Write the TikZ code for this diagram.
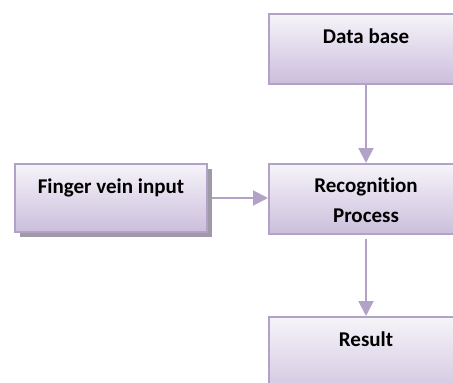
\documentclass[tikz,border=0pt]{standalone}
\usepackage{fontspec}
\setmainfont{Carlito}[RawFeature={-liga;-clig;-calt;-dlig}]
\usetikzlibrary{arrows.meta,shadows}
\definecolor{bordercol}{HTML}{B3A2C7}
\definecolor{topcol}{HTML}{F6F4F9}
\definecolor{botcol}{HTML}{CBBEDC}
\definecolor{shadowcol}{HTML}{A09AA8}
\tikzset{
  flowbox/.style={draw=bordercol, line width=2pt, top color=topcol, bottom color=botcol,
    minimum width=194pt, minimum height=70pt, inner sep=0pt, anchor=north west},
  boxtext/.style={font=\fontsize{21}{30}\selectfont\bfseries, inner sep=0pt, anchor=base, align=center},
  flowarrow/.style={draw=bordercol, line width=2pt, -{Triangle[length=15pt,width=15pt]}}
}
\begin{document}
\begin{tikzpicture}[x=1pt,y=-1pt]
\useasboundingbox (0,0) rectangle (453,383);
\begin{scope}
\clip (0,0) rectangle (453,383);
\node[flowbox] (db) at (268,13) {};
\node[flowbox] (rec) at (268,163) {};
\node[flowbox, minimum height=90pt] (res) at (268,316) {};
\node[flowbox, minimum width=192pt, minimum height=68pt,
      drop shadow={shadow xshift=5pt, shadow yshift=-5pt, fill=shadowcol, opacity=1}] (fv) at (14,163) {};
\node[boxtext] (dbt) at ([yshift=-30.5pt]db.north) {Data base};
\node[boxtext] (rect) at ([yshift=-59.7pt]rec.north) {Recogni\kern0pt tion\\Process};
\node[boxtext] (rest) at ([yshift=-30.7pt]res.north) {Result};
\node[boxtext] (fvt) at ([yshift=-30.5pt]fv.north) {Finger vein input};
\draw[flowarrow] (db.south) -- (rec.north);
\draw[flowarrow] ([xshift=4pt]fv.east) -- (fv.east -| rec.west);
\draw[flowarrow] ([yshift=-4pt]rec.south) -- (res.north);
\end{scope}
\end{tikzpicture}
\end{document}
